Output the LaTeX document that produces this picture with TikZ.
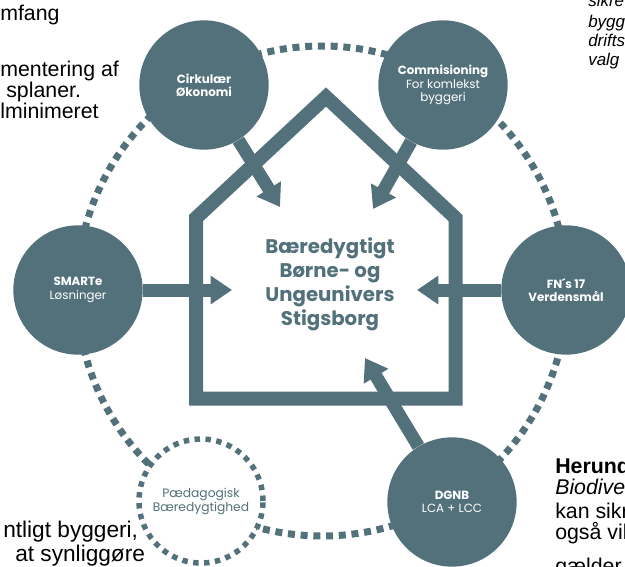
\documentclass[tikz,border=0pt]{standalone}
\usepackage{fontspec}
\setmainfont{Liberation Sans}
\newfontfamily\popfont{Poppins}
\usetikzlibrary{arrows.meta,positioning}

\definecolor{slate}{HTML}{52717B}

\tikzset{
  ring/.style={draw=slate, line width=5.25pt, dash pattern=on 5.25pt off 4.3pt},
  goal/.style={circle, fill=slate, minimum size=97pt, inner sep=0pt, text=white, align=center, font=\popfont\fontsize{8.9}{10}\selectfont},
  softgoal/.style={circle, fill=white, draw=slate, line width=4.1pt, dash pattern=on 4.1pt off 4.1pt, minimum size=93pt, inner sep=0pt, text=slate, align=center, font=\popfont\fontsize{9.2}{10.5}\selectfont},
  push/.style={draw=slate, line width=9.75pt, -{Triangle[length=16pt,width=20.5pt]}},
  wall/.style={draw=slate, line width=10.5pt, line join=miter},
  title/.style={text=slate, align=center, font=\popfont\bfseries\fontsize{14.8}{18}\selectfont},
  note/.style={inner sep=0pt, anchor=base west, font=\fontsize{16}{16}\selectfont},
  smallnote/.style={inner sep=0pt, anchor=base west, font=\itshape\fontsize{12.75}{14}\selectfont}
}

\begin{document}
\begin{tikzpicture}[x=0.75pt,y=-0.75pt]
  \useasboundingbox (0,0) rectangle (625,567);
  % ring behind everything
  \coordinate (hub) at (322,291);
  \draw[ring] (hub) circle[radius=183.75pt];

  % house
  \draw[wall] (196,398.5) -- (196,218) -- (326,97) -- (455.5,218) -- (455.5,398.5) -- cycle;
  \node[title] (mid) at (330,284) {Bæredygtigt\\Børne- og\\Ungeunivers\\Stigsborg};

  % themes
  \node[goal] (cirk) at (204,85) {{\bfseries Cirkulær}\\{\bfseries Økonomi}};
  \node[goal] (comm) at (443,85) {{\bfseries Commisioning}\\For komlekst\\byggeri};
  \node[goal] (smart) at (78,290) {{\bfseries SMARTe}\\Løsninger};
  \node[goal] (fn) at (566,290) {{\bfseries FN´s 17}\\{\bfseries Verdensmål}};
  \node[goal] (dgnb) at (452,502) {{\bfseries DGNB}\\LCA + LCC};
  \node[softgoal] (paed) at (201,501) {Pædagogisk\\Bæredygtighed};

  % arrow ends
  \coordinate (t1) at (280,207);
  \coordinate (t2) at (373,209);
  \coordinate (t3) at (232,290);
  \coordinate (t4) at (417,290);
  \coordinate (t5) at (365,358);
  \draw[push] (cirk) -- (t1);
  \draw[push] (comm) -- (t2);
  \draw[push] (smart) -- (t3);
  \draw[push] (fn) -- (t4);
  \draw[push] (dgnb) -- (t5);

  % cut text at the edges
  \node[note] (tl1) at (0,21) {mfang};
  \node[note] (tl2) at (0,77) {mentering af};
  \node[note] (tl3) at (6,97.5) {splaner.};
  \node[note] (tl4) at (0,118) {lminimeret};

  \node[smallnote] (tr1) at (588,6.5) {sikre};
  \node[smallnote] (tr2) at (588,27.5) {bygg};
  \node[smallnote] (tr3) at (588,46.5) {drifts};
  \node[smallnote] (tr4) at (588,65.5) {valg};

  \node[note, font=\bfseries\fontsize{16}{16}\selectfont] (br1) at (555,473) {Herund};
  \node[note, font=\itshape\fontsize{16}{16}\selectfont] (br2) at (555,494) {Biodive};
  \node[note] (br3) at (555,518) {kan sikr};
  \node[note] (br4) at (555,539) {også vil};
  \node[note] (br5) at (555,573) {gælder};

  \node[note, font=\fontsize{17}{17}\selectfont] (bl1) at (3,537) {ntligt byggeri,};
  \node[note, font=\fontsize{17}{17}\selectfont] (bl2) at (15,561) {at synliggøre};
\end{tikzpicture}
\end{document}
